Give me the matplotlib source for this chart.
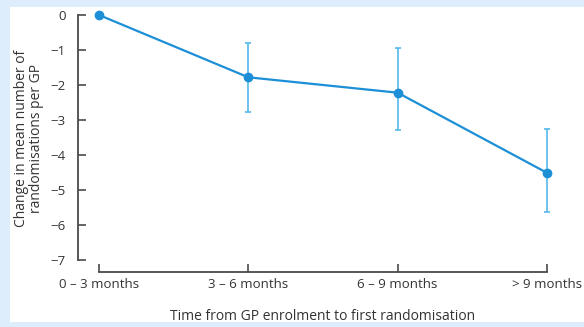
import numpy as np
import matplotlib
matplotlib.use("Agg")
from matplotlib import pyplot as plt
from matplotlib.patches import Rectangle

# data
periods = ["0 \u2013 3 months", "3 \u2013 6 months", "6 \u2013 9 months", "> 9 months"]
change = [0.0, -1.78, -2.22, -4.51]
ci_upper = [np.nan, -0.80, -0.94, -3.26]
ci_lower = [np.nan, -2.77, -3.29, -5.63]
yticks = [0, -1, -2, -3, -4, -5, -6, -7]

plt.rcParams['font.family'] = ['Open Sans', 'DejaVu Sans']

line_col = '#1c8fd6'
err_col = '#55b9ec'
axis_col = '#4a4a4a'

fig = plt.figure(figsize=(5.84, 3.27), dpi=100, facecolor='#ddedfc')
fig.patches.append(Rectangle((10/584., 1-322/327.), 1., (322-7)/327.,
                             transform=fig.transFigure, facecolor='white',
                             edgecolor='none', zorder=-10))

ax = fig.add_axes([78/584., 1-272/327., (560-78)/584., (272-10)/327.])
ax.set_facecolor('none')

x = np.arange(len(periods))
y = np.array(change)
lo = y - np.array(ci_lower)
hi = np.array(ci_upper) - y
ax.errorbar(x, y, yerr=[lo, hi], fmt='none', ecolor=err_col, elinewidth=1.2,
            capsize=2, capthick=1.2, zorder=2)
ax.plot(x, y, color=line_col, lw=1.6, marker='o', ms=6, zorder=3)

ax.set_xlim(-21/149.33, 3 + 13/149.33)
ax.set_ylim(-257/35., 5/35.)
ax.spines['top'].set_visible(False)
ax.spines['right'].set_visible(False)
for s in ['left', 'bottom']:
    ax.spines[s].set_color(axis_col)
    ax.spines[s].set_linewidth(1.3)
ax.spines['left'].set_bounds(-7, 0)
ax.spines['bottom'].set_bounds(0, 3)

ax.set_xticks(x)
ax.set_xticklabels(periods)
ax.set_yticks(yticks)
ax.set_yticklabels([('\u2212%d' % -t) if t else '0' for t in yticks])
ax.tick_params(axis='both', direction='in', length=6, width=1.2, color=axis_col,
               labelsize=9.5, labelcolor='#333333')
ax.tick_params(axis='y', pad=9)
ax.tick_params(axis='x', pad=4)

fig.text(323/584., 1-316/327., 'Time from GP enrolment to first randomisation',
         ha='center', va='center', fontsize=10, color='#333333')
fig.text(29/584., 1-138/327., 'Change in mean number of\nrandomisations per GP',
         ha='center', va='center', rotation=90, fontsize=10, color='#333333',
         linespacing=0.95)

fig.savefig('out.png', dpi=100, facecolor=fig.get_facecolor())
